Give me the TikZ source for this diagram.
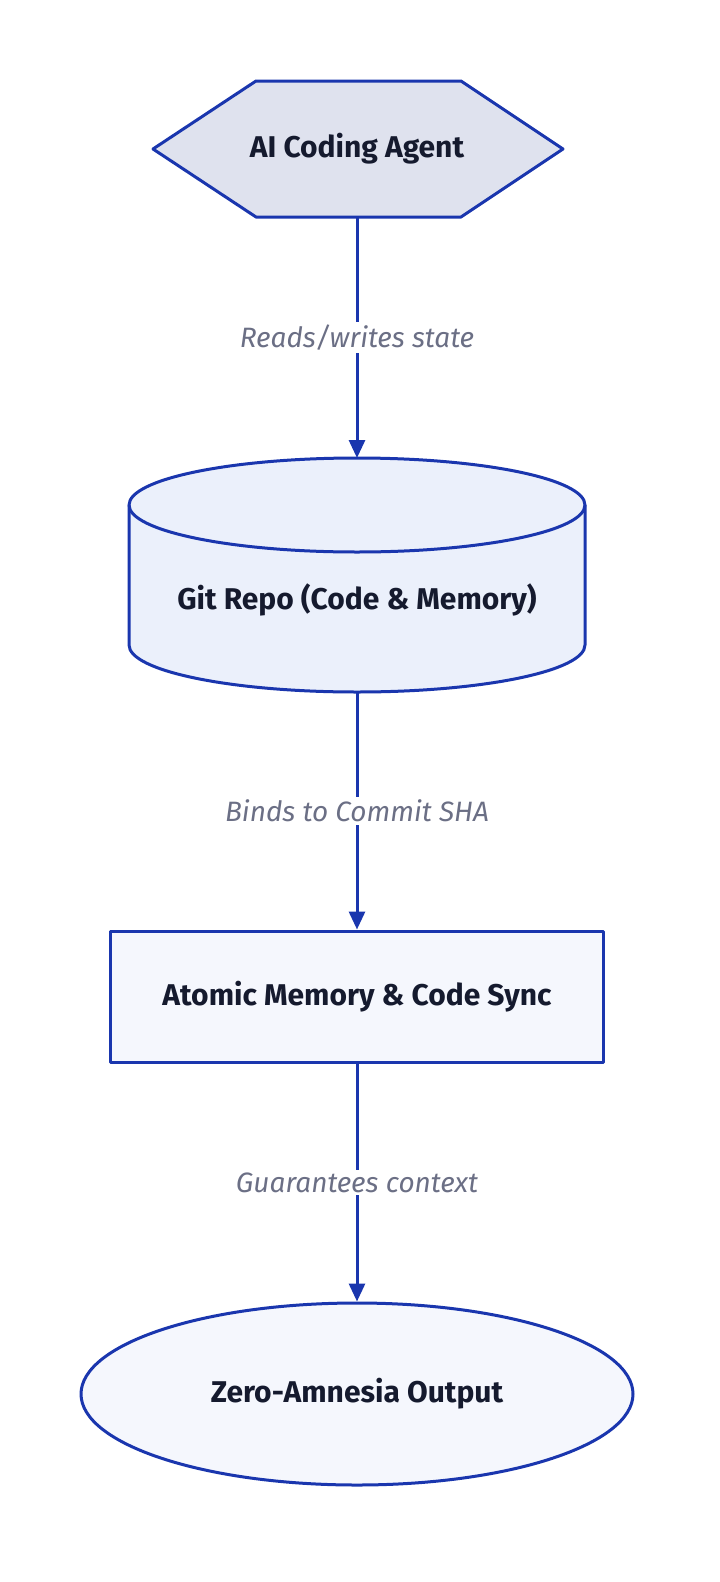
\documentclass[tikz,border=0pt]{standalone}
\usepackage{fontspec}
\setmainfont{Fira Sans}
\usetikzlibrary{shapes.geometric,arrows.meta}
\definecolor{edge}{HTML}{1A36AE}
\definecolor{hexfill}{HTML}{DFE2EE}
\definecolor{cylfill}{HTML}{EBF0FB}
\definecolor{boxfill}{HTML}{F5F7FD}
\definecolor{ink}{HTML}{151A2E}
\definecolor{note}{HTML}{6B6F85}
\begin{document}
\begin{tikzpicture}[x=1pt,y=-1pt,
  shape line/.style={draw=edge, line width=3pt, line join=round},
  title/.style={font=\fontsize{30}{36}\selectfont\bfseries, text=ink},
  wire/.style={draw=edge, line width=3pt, -{Triangle[length=18pt,width=16pt]}},
  tag/.style={font=\fontsize{28}{34}\selectfont\itshape, text=note, fill=white, inner sep=3pt}
]
\useasboundingbox (0,0) rectangle (720,1582);

% Agent hexagon
\coordinate (agentN) at (357,81);
\coordinate (agentS) at (357,217);
\filldraw[shape line, fill=hexfill] (153,149) -- (256,81) -- (461,81) -- (563,149) -- (461,217) -- (256,217) -- cycle;
\node[title] (agent) at (357,149) {AI Coding Agent};

% Repo cylinder
\coordinate (repoN) at (357,458);
\coordinate (repoS) at (357,692);
\filldraw[shape line, fill=cylfill] (129,505) -- (129,645)
  arc[start angle=180, end angle=0, x radius=228, y radius=47]
  -- (585,505) arc[start angle=0, end angle=-180, x radius=228, y radius=47] -- cycle;
\draw[shape line] (129,505) arc[start angle=180, end angle=0, x radius=228, y radius=47];
\node[title] (repo) at (357,600) {Git Repo (Code \& Memory)};

% Sync box
\node[shape line, fill=boxfill, rectangle, minimum width=493pt, minimum height=131pt, title] (sync) at (357,996.5) {Atomic Memory \& Code Sync};

% Output ellipse
\node[shape line, fill=boxfill, ellipse, minimum width=552pt, minimum height=182pt, inner sep=0pt, title] (output) at (357,1394) {Zero-Amnesia Output};

% Wires
\draw[wire] (agentS) -- node[tag, pos=0.5] {Reads/writes state} (repoN);
\draw[wire] (repoS) -- node[tag, pos=0.5] {Binds to Commit SHA} (sync.north);
\draw[wire] (sync.south) -- node[tag, pos=0.5] {Guarantees context} (output.north);
\end{tikzpicture}
\end{document}
